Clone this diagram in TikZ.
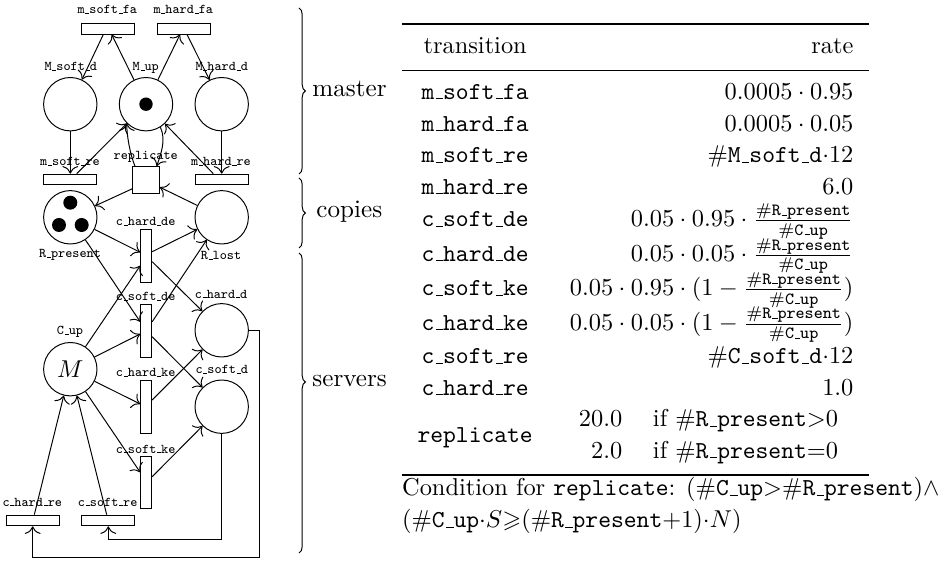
\documentclass[tikz,border=0pt]{standalone}
\usepackage{amsmath,amssymb}
\usepackage{booktabs}
\usetikzlibrary{decorations.pathreplacing,calc,arrows.meta}
% one drawing unit
\newcommand\pxu{0.41pt}
% low, short underscore for identifiers
\newcommand\usc{\leavevmode\kern.06em\vbox{\hrule width.3em}}
\newcommand\frR{\frac{\#\texttt{R\usc present}}{\#\texttt{C\usc up}}}
\begin{document}
\begin{tikzpicture}[x=0.41pt,y=-0.41pt,>={To[scale=1.25]},
  place/.style={circle,draw,minimum size=53.4*\pxu,inner sep=0pt},
  htrans/.style={rectangle,draw,minimum width=53.3*\pxu,minimum height=10.7*\pxu,inner sep=0pt},
  vtrans/.style={rectangle,draw,minimum width=11*\pxu,minimum height=52.7*\pxu,inner sep=0pt},
  sqtrans/.style={rectangle,draw,minimum size=26.7*\pxu,inner sep=0pt},
  lbl/.style={font=\fontsize{5.5}{6}\selectfont\ttfamily,inner sep=0pt,anchor=base},
  tok/.style={fill=black},
  grpbrace/.style={decorate,decoration={brace,amplitude=6.4*\pxu}},
  grplbl/.style={font=\fontsize{10.3}{12}\selectfont,inner sep=0pt,anchor=base west}]
\useasboundingbox (0,0) rectangle (939,561);

% ---------- places ----------
\node[place] (Msoftd) at (70.3,104.2) {};
\node[place] (Mup) at (146,104.2) {};
\node[place] (Mhardd) at (221.7,104.2) {};
\node[place] (Rpresent) at (70.3,217.3) {};
\node[place] (Rlost) at (221.7,217.3) {};
\node[place] (Cup) at (70.3,369.2) {$M$};
\node[place] (chardd) at (221.7,330.3) {};
\node[place] (csoftd) at (221.7,406.7) {};

% tokens
\fill[tok] (Mup.center) circle[radius=6.7];
\fill[tok] (70.3,202.7) circle[radius=7];
\fill[tok] (59,225) circle[radius=7];
\fill[tok] (81.7,225) circle[radius=7];

% ---------- transitions ----------
\node[htrans] (msoftfa) at (108.3,28.7) {};
\node[htrans] (mhardfa) at (184,28.7) {};
\node[htrans] (msoftre) at (70.3,179.5) {};
\node[htrans] (mhardre) at (221.7,179.5) {};
\node[sqtrans] (rep) at (146,180) {};
\node[vtrans] (chardde) at (146.2,255.7) {};
\node[vtrans] (csoftde) at (146.2,330.8) {};
\node[vtrans] (chardke) at (146.2,406.7) {};
\node[vtrans] (csoftke) at (146.2,482.5) {};
\node[htrans] (chardre) at (32.7,520.5) {};
\node[htrans] (csoftre) at (108.3,520.5) {};

% ---------- labels ----------
\node[lbl] (lmsoftfa) at (107.3,14) {m\usc soft\usc fa};
\node[lbl] (lmhardfa) at (183.3,14) {m\usc hard\usc fa};
\node[lbl] (lMsoftd) at (70.7,71) {M\usc soft\usc d};
\node[lbl] (lMup) at (145.7,71) {M\usc up};
\node[lbl] (lMhardd) at (221.7,71) {M\usc hard\usc d};
\node[lbl] (lmsoftre) at (70,165.7) {m\usc soft\usc re};
\node[lbl] (lrep) at (145.7,159.5) {replicate};
\node[lbl] (lmhardre) at (221,165.7) {m\usc hard\usc re};
\node[lbl] (lRpresent) at (70,257.5) {R\usc present};
\node[lbl] (lRlost) at (221,260) {R\usc lost};
\node[lbl] (lchardde) at (145.7,225.7) {c\usc hard\usc de};
\node[lbl] (lcsoftde) at (145.7,301) {c\usc soft\usc de};
\node[lbl] (lchardd) at (221,298.3) {c\usc hard\usc d};
\node[lbl] (lCup) at (70,334.5) {C\usc up};
\node[lbl] (lchardke) at (145.7,376.5) {c\usc hard\usc ke};
\node[lbl] (lcsoftd) at (221.7,374) {c\usc soft\usc d};
\node[lbl] (lcsoftke) at (145.7,453.3) {c\usc soft\usc ke};
\node[lbl] (lchardre) at (32.3,506.3) {c\usc hard\usc re};
\node[lbl] (lcsoftre) at (107.7,506.3) {c\usc soft\usc re};

% ---------- arcs: master ----------
\draw[->] ($(msoftfa.south)+(-5,0)$) -- (Msoftd);
\draw[->] (Mup) -- ($(msoftfa.south)+(3.4,0)$);
\draw[->] (Mup) -- ($(mhardfa.south)+(-4,0)$);
\draw[->] ($(mhardfa.south)+(3,0)$) -- (Mhardd);
\draw[->] (Msoftd) -- (msoftre);
\draw[->] (Mhardd) -- (mhardre);
\draw[->] ($(msoftre.north)+(6.4,0)$) -- (Mup);
\draw[->] ($(mhardre.north)+(-8.4,0)$) -- (Mup);
\draw[->] ($(rep.north)+(-11,0)$) .. controls +(-5,-12) and +(0,12) .. (Mup.225);
\draw[->] (Mup.-58) .. controls +(6,13) and +(4,-12) .. ($(rep.north)+(10.7,0)$);

% ---------- arcs: copies ----------
\draw[->] ($(rep.south west)+(0,-5)$) -- (Rpresent);
\draw[->] (Rlost) -- ($(rep.south east)+(0,-6.6)$);
\draw[->] (Rpresent) -- ($(chardde.west)+(0,-3.4)$);
\draw[->] ($(chardde.east)+(0,-4)$) -- (Rlost);
\draw[->] ($(chardde.east)+(0,6)$) -- (chardd);
\draw[->] (Rpresent) -- ($(csoftde.west)+(0,-9)$);
\draw[->] ($(csoftde.east)+(0,-9)$) -- (Rlost);

% ---------- arcs: servers ----------
\draw[->] (Cup) -- ($(chardde.west)+(0,10)$);
\draw[->] (Cup) -- ($(csoftde.west)+(0,3.2)$);
\draw[->] ($(csoftde.east)+(0,6)$) -- (csoftd);
\draw[->] (Cup) -- ($(chardke.west)+(0,-2.7)$);
\draw[->] ($(chardke.east)+(0,-6.7)$) -- (chardd);
\draw[->] (Cup) -- ($(csoftke.west)+(0,-10.2)$);
\draw[->] ($(csoftke.east)+(0,-5.8)$) -- (csoftd);
\draw[->] ($(chardre.north)+(1.6,0)$) -- (Cup);
\draw[->] ($(csoftre.north)+(-1.6,0)$) -- (Cup);
\coordinate (loopA) at (259.3,557.3);
\coordinate (loopB) at (221.7,539);
\draw[->] (chardd.east) -| (loopA) -| (chardre.south);
\draw[->] (csoftd.south) -- (loopB) -| (csoftre.south);

% ---------- group braces ----------
\coordinate (bMa) at (299,8);
\coordinate (bMb) at (299,174);
\coordinate (bCa) at (299,178);
\coordinate (bCb) at (299,248);
\coordinate (bSa) at (299,253);
\coordinate (bSb) at (299,553);
\draw[grpbrace] (bMa) -- (bMb);
\draw[grpbrace] (bCa) -- (bCb);
\draw[grpbrace,decoration={aspect=0.43}] (bSa) -- (bSb);
\node[grplbl] (gmaster) at (312,96.5) {master};
\node[grplbl] (gcopies) at (316,218) {copies};
\node[grplbl] (gservers) at (312,387) {servers};

% ---------- rate table ----------
\node[anchor=north west,inner sep=0pt] (tbl) at (401.7,23) {%
  \setlength\tabcolsep{6.3pt}%
  \renewcommand\arraystretch{1.08}%
  \setlength\aboverulesep{2.6pt}%
  \setlength\belowrulesep{2.6pt}%
  \begin{tabular}{cr}
  \toprule
  transition & rate\\
  \midrule
  \texttt{m\usc soft\usc fa} & $0.0005\cdot 0.95$\\
  \texttt{m\usc hard\usc fa} & $0.0005\cdot 0.05$\\
  \texttt{m\usc soft\usc re} & $\#\texttt{M\usc soft\usc d}{\cdot}12$\\
  \texttt{m\usc hard\usc re} & $6.0$\\
  \texttt{c\usc soft\usc de} & $0.05\cdot 0.95\cdot \frR$\\[-0.4pt]
  \texttt{c\usc hard\usc de} & $0.05\cdot 0.05\cdot \frR$\\[-0.4pt]
  \texttt{c\usc soft\usc ke} & $0.05\cdot 0.95\cdot (1-\frR)$\\[-0.4pt]
  \texttt{c\usc hard\usc ke} & $0.05\cdot 0.05\cdot (1-\frR)$\\[-0.4pt]
  \texttt{c\usc soft\usc re} & $\#\texttt{C\usc soft\usc d}{\cdot}12$\\
  \texttt{c\usc hard\usc re} & $1.0$\\
  \texttt{replicate} &
    \begin{tabular}{rl}
    $20.0$ & if $\#\texttt{R\usc present}{>}0$\\
    $2.0$ & if $\#\texttt{R\usc present}{=}0$
    \end{tabular}\\
  \bottomrule
  \end{tabular}};
\node[anchor=north west,inner sep=0pt,align=left,font=\fontsize{10}{13.2}\selectfont] (cond) at (401.7,477)
  {Condition for \texttt{replicate}: $(\#\texttt{C\usc up}{>}\#\texttt{R\usc present})\wedge$\\
   $(\#\texttt{C\usc up}{\cdot}S{\geqslant}(\#\texttt{R\usc present}{+}1){\cdot}N)$};
\end{tikzpicture}
\end{document}
